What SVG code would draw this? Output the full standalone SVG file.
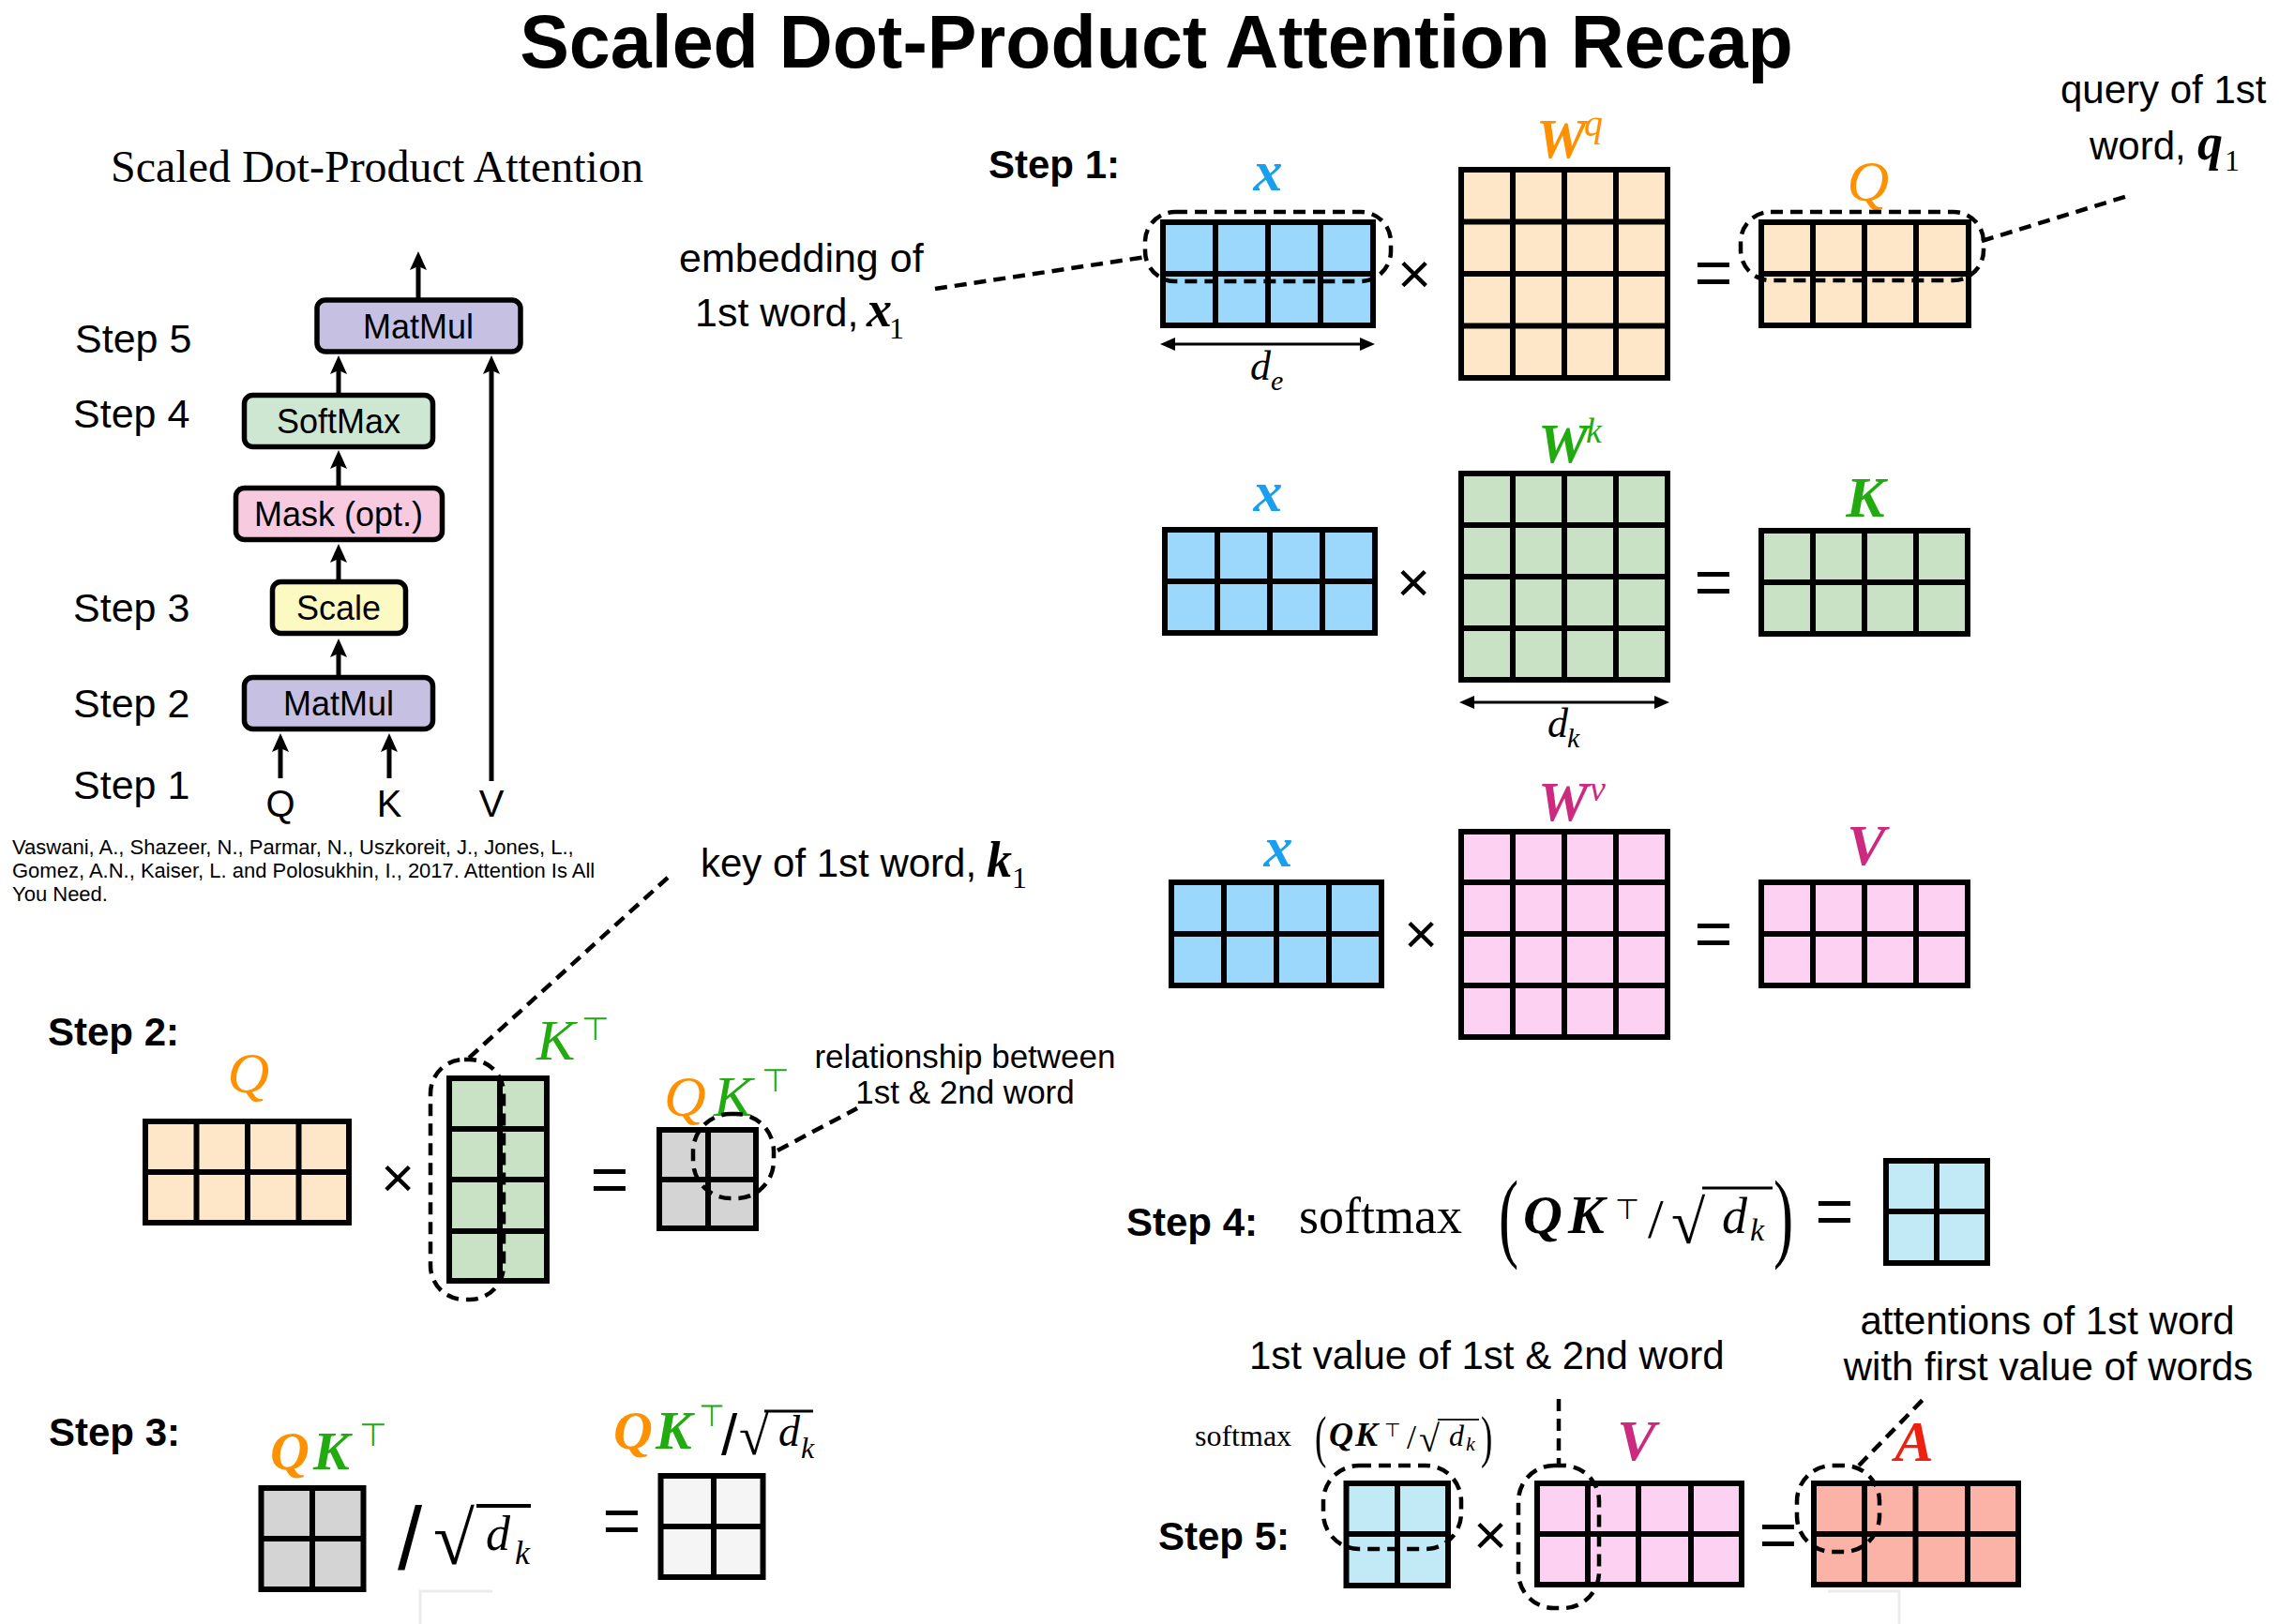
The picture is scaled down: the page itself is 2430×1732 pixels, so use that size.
<svg xmlns="http://www.w3.org/2000/svg" width="2430" height="1732" viewBox="0 0 2430 1732">
<defs>
<style>
.t{font-family:"Liberation Sans",Arial,sans-serif;fill:#000}
.b{font-weight:bold}
.s{font-family:"Liberation Serif","Times New Roman",serif;fill:#000}
.i{font-style:italic}
.mx{stroke:#000;stroke-width:6;stroke-linejoin:miter}
.g{stroke:#000;stroke-width:6}
.d{fill:none;stroke:#000;stroke-width:4.5;stroke-dasharray:13 8}
.box{stroke:#000;stroke-width:5.5}
.ar{stroke:#000;stroke-width:5;fill:none}
.thin{stroke:#000;stroke-width:3;fill:none}
.faint{stroke:#ececec;stroke-width:3;fill:none}
.blue{fill:#9bd8fb}.peach{fill:#fee6c9}.green{fill:#c9e1c4}.pink{fill:#fdd1f2}
.gray{fill:#d4d4d4}.lgray{fill:#f5f5f5}.lblue{fill:#c1e9f6}.salmon{fill:#fbb2a7}
.cb{fill:#1a9ff0}.co{fill:#ff9000}.cg{fill:#22aa11}.cm{fill:#cc2a7f}.cr{fill:#ee2010}
</style>
<marker id="ah" viewBox="0 0 20 18" refX="8" refY="9" markerWidth="20" markerHeight="18" markerUnits="userSpaceOnUse" orient="auto"><path d="M0,0 L20,9 L0,18 L4,9z" fill="#000"/></marker>
<marker id="ah2" viewBox="0 0 16 14" refX="4" refY="7" markerWidth="16" markerHeight="14" markerUnits="userSpaceOnUse" orient="auto-start-reverse"><path d="M0,0 L16,7 L0,14z" fill="#000"/></marker>
</defs>
<rect width="2430" height="1732" fill="#fff"/>

<text id="title" class="t b" x="1233" y="72" font-size="79" text-anchor="middle">Scaled Dot-Product Attention Recap</text>

<!-- Left diagram -->
<g id="left-diagram">
<text class="s" x="118" y="194" font-size="48">Scaled Dot-Product Attention</text>
<text class="t" x="80" y="376" font-size="43">Step 5</text>
<text class="t" x="78" y="456" font-size="43">Step 4</text>
<text class="t" x="78" y="663" font-size="43">Step 3</text>
<text class="t" x="78" y="765" font-size="43">Step 2</text>
<text class="t" x="78" y="852" font-size="43">Step 1</text>
</g>
<g id="node-matmul-top"><rect class="box" x="338" y="320" width="217" height="55" rx="9" fill="#c6c1e3"/><text class="t" x="446" y="361" font-size="36" text-anchor="middle">MatMul</text></g>
<g id="node-softmax"><rect class="box" x="260.5" y="421.5" width="201" height="55" rx="9" fill="#cde7d3"/><text class="t" x="361" y="462" font-size="36" text-anchor="middle">SoftMax</text></g>
<g id="node-mask"><rect class="box" x="251.5" y="520.5" width="220" height="55" rx="9" fill="#f7cadf"/><text class="t" x="361" y="561" font-size="36" text-anchor="middle">Mask (opt.)</text></g>
<g id="node-scale"><rect class="box" x="290.5" y="620.5" width="142" height="55" rx="9" fill="#fcf9c2"/><text class="t" x="361" y="661" font-size="36" text-anchor="middle">Scale</text></g>
<g id="node-matmul-bottom"><rect class="box" x="260.5" y="722.5" width="201" height="55" rx="9" fill="#c6c1e3"/><text class="t" x="361" y="763" font-size="36" text-anchor="middle">MatMul</text></g>
<g id="inputs">
<text class="t" x="299" y="871" font-size="40" text-anchor="middle">Q</text>
<text class="t" x="415" y="871" font-size="40" text-anchor="middle">K</text>
<text class="t" x="524" y="871" font-size="40" text-anchor="middle">V</text>
</g>
<g id="citation" class="t" font-size="22" fill="#222">
<text x="13" y="911">Vaswani, A., Shazeer, N., Parmar, N., Uszkoreit, J., Jones, L.,</text>
<text x="13" y="936">Gomez, A.N., Kaiser, L. and Polosukhin, I., 2017. Attention Is All</text>
<text x="13" y="961">You Need.</text>
</g>

<g id="connectors">
<line class="ar" x1="446" y1="318" x2="446" y2="280" marker-end="url(#ah)"/>
<line class="ar" x1="361" y1="419" x2="361" y2="391" marker-end="url(#ah)"/>
<line class="ar" x1="361" y1="518" x2="361" y2="492" marker-end="url(#ah)"/>
<line class="ar" x1="361" y1="618" x2="361" y2="592" marker-end="url(#ah)"/>
<line class="ar" x1="361" y1="720" x2="361" y2="693" marker-end="url(#ah)"/>
<line class="ar" x1="299" y1="830" x2="299" y2="794" marker-end="url(#ah)"/>
<line class="ar" x1="415" y1="830" x2="415" y2="794" marker-end="url(#ah)"/>
<line class="ar" x1="524" y1="833" x2="524" y2="391" marker-end="url(#ah)"/>
<line class="thin" x1="1249" y1="367" x2="1454" y2="367" marker-start="url(#ah2)" marker-end="url(#ah2)"/>
<line class="thin" x1="1568" y1="749" x2="1768" y2="749" marker-start="url(#ah2)" marker-end="url(#ah2)"/>
<line class="d" x1="997" y1="308" x2="1222" y2="274"/>
<line class="d" x1="2113" y1="257" x2="2272" y2="208"/>
<line class="d" x1="712" y1="936" x2="498" y2="1130"/>
<line class="d" x1="829" y1="1227" x2="914" y2="1182"/>
<line class="d" x1="1662" y1="1492" x2="1662" y2="1563"/>
<line class="d" x1="1982" y1="1563" x2="2051" y2="1492"/>
</g>

<!-- Step 1 -->
<g id="step1">
<text class="t b" x="1054" y="190" font-size="42">Step 1:</text>
<text class="t" x="724" y="290" font-size="43">embedding of</text>
<text class="t" x="741" y="348" font-size="43">1st word, </text>
<text class="s i b" x="924" y="348" font-size="54">x</text>
<text class="s" x="948" y="361" font-size="32">1</text>
<text class="t" x="2197" y="110" font-size="42">query of 1st</text>
<text class="t" x="2228" y="170" font-size="42">word, </text>
<text class="s i b" x="2343" y="170" font-size="54">q</text>
<text class="s" x="2372" y="182" font-size="32">1</text>
</g>
<g id="x-q">
<rect class="mx blue" x="1240" y="237" width="224" height="110"/>
<path class="g" d="M1296,237V347M1352,237V347M1408,237V347M1240,292H1464"/>
<text class="s i b cb" x="1352" y="203" font-size="62" text-anchor="middle">x</text>
<text class="s i" x="1333" y="405" font-size="44">d</text>
<text class="s i" x="1355" y="416" font-size="30">e</text>
<rect class="d" x="1221" y="226" width="262" height="74" rx="32"/>
</g>
<text class="t" x="1508" y="313" font-size="62" text-anchor="middle">×</text>
<g id="wq">
<rect class="mx peach" x="1558" y="181" width="220" height="222"/>
<path class="g" d="M1613,181V403M1668,181V403M1723,181V403M1558,236.5H1778M1558,292H1778M1558,347.5H1778"/>
<text class="s i b co" x="1638" y="168" font-size="60">W</text>
<text class="s i co" x="1689" y="145" font-size="40">q</text>
</g>
<text class="t" x="1827" y="315" font-size="70" text-anchor="middle">=</text>
<g id="q">
<rect class="mx peach" x="1878" y="237" width="221" height="110"/>
<path class="g" d="M1933,237V347M1988,237V347M2043,237V347M1878,292H2099"/>
<text class="s i co" x="1992" y="214" font-size="62" text-anchor="middle">Q</text>
<rect class="d" x="1856" y="226" width="259" height="73" rx="32"/>
</g>

<!-- K row -->
<g id="x-k">
<rect class="mx blue" x="1242" y="565" width="224" height="110"/>
<path class="g" d="M1298,565V675M1354,565V675M1410,565V675M1242,620H1466"/>
<text class="s i b cb" x="1352" y="545" font-size="62" text-anchor="middle">x</text>
</g>
<text class="t" x="1507" y="642" font-size="62" text-anchor="middle">×</text>
<g id="wk">
<rect class="mx green" x="1558" y="505" width="220" height="220"/>
<path class="g" d="M1613,505V725M1668,505V725M1723,505V725M1558,560H1778M1558,615H1778M1558,670H1778"/>
<text class="s i b cg" x="1640" y="493" font-size="60">W</text>
<text class="s i cg" x="1691" y="472" font-size="38">k</text>
<text class="s i" x="1650" y="786" font-size="44">d</text>
<text class="s i" x="1671" y="797" font-size="30">k</text>
</g>
<text class="t" x="1827" y="645" font-size="70" text-anchor="middle">=</text>
<g id="k">
<rect class="mx green" x="1878" y="566" width="220" height="110"/>
<path class="g" d="M1933,566V676M1988,566V676M2043,566V676M1878,621H2098"/>
<text class="s i b cg" x="1989" y="551" font-size="62" text-anchor="middle">K</text>
</g>

<!-- V row -->
<g id="x-v">
<rect class="mx blue" x="1249" y="941" width="224" height="110"/>
<path class="g" d="M1305,941V1051M1361,941V1051M1417,941V1051M1249,996H1473"/>
<text class="s i b cb" x="1363" y="924" font-size="62" text-anchor="middle">x</text>
</g>
<text class="t" x="1515" y="1017" font-size="62" text-anchor="middle">×</text>
<g id="wv">
<rect class="mx pink" x="1558" y="887" width="220" height="219"/>
<path class="g" d="M1613,887V1106M1668,887V1106M1723,887V1106M1558,941H1778M1558,996H1778M1558,1051H1778"/>
<text class="s i b cm" x="1640" y="875" font-size="60">W</text>
<text class="s i cm" x="1695" y="854" font-size="38">v</text>
</g>
<text class="t" x="1827" y="1020" font-size="70" text-anchor="middle">=</text>
<g id="v">
<rect class="mx pink" x="1878" y="941" width="220" height="110"/>
<path class="g" d="M1933,941V1051M1988,941V1051M2043,941V1051M1878,996H2098"/>
<text class="s i b cm" x="1990" y="922" font-size="62" text-anchor="middle">V</text>
</g>

<!-- Step 2 -->
<g id="step2">
<text class="t b" x="51" y="1115" font-size="42">Step 2:</text>
<text class="t" x="747" y="935" font-size="42">key of 1st word, </text>
<text class="s i b" x="1052" y="935" font-size="54">k</text>
<text class="s" x="1079" y="947" font-size="32">1</text>
<text class="t" x="1029" y="1139" font-size="35" text-anchor="middle">relationship between</text>
<text class="t" x="1029" y="1177" font-size="35" text-anchor="middle">1st &amp; 2nd word</text>
</g>
<g id="q2">
<rect class="mx peach" x="155" y="1196" width="217" height="108"/>
<path class="g" d="M209.5,1196V1304M264,1196V1304M318.5,1196V1304M155,1250H372"/>
<text class="s i co" x="265" y="1165" font-size="62" text-anchor="middle">Q</text>
</g>
<text class="t" x="424" y="1277" font-size="62" text-anchor="middle">×</text>
<g id="kt">
<rect class="mx green" x="479" y="1150" width="104" height="216"/>
<path class="g" d="M533,1150V1366M479,1204H583M479,1258H583M479,1313H583"/>
<text class="s i cg" x="572" y="1130" font-size="62">K</text>
<text class="t cg" x="620" y="1109" font-size="34">⊤</text>
<rect class="d" x="459" y="1130" width="78" height="256" rx="36"/>
</g>
<text class="t" x="650" y="1282" font-size="70" text-anchor="middle">=</text>
<g id="qkt">
<rect class="mx gray" x="703" y="1205" width="103" height="105"/>
<path class="g" d="M755,1205V1310M703,1258H806"/>
<text class="s i co" x="708" y="1190" font-size="62">Q</text>
<text class="s i cg" x="761" y="1190" font-size="62">K</text>
<text class="t cg" x="812" y="1164" font-size="34">⊤</text>
<rect class="d" x="739" y="1188" width="86" height="90" rx="40"/>
</g>

<!-- Step 3 -->
<g id="step3">
<text class="t b" x="52" y="1542" font-size="42">Step 3:</text>
<rect class="mx gray" x="278.5" y="1587" width="109" height="108"/>
<path class="g" d="M333,1587V1695M278.5,1641H387.5"/>
<text class="s i b co" x="288" y="1567" font-size="58">Q</text>
<text class="s i b cg" x="334" y="1567" font-size="58">K</text>
<text class="t cg" x="383" y="1542" font-size="34">⊤</text>
<text class="t" x="424" y="1674" font-size="94">/</text>
<text class="s" x="462" y="1668" font-size="80">√</text>
<line x1="508" y1="1606" x2="566" y2="1606" stroke="#000" stroke-width="4"/>
<text class="s i" x="518" y="1653" font-size="52">d</text>
<text class="s i" x="549" y="1668" font-size="36">k</text>
<text class="t" x="663" y="1646" font-size="70" text-anchor="middle">=</text>
<rect class="mx lgray" x="704.5" y="1574" width="109" height="108"/>
<path class="g" d="M761,1574V1682M704.5,1628H813.5"/>
<text class="s i b co" x="654" y="1545" font-size="58">Q</text>
<text class="s i b cg" x="699" y="1545" font-size="58">K</text>
<text class="t cg" x="745" y="1521" font-size="32">⊤</text>
<text class="t" x="769" y="1551" font-size="62">/</text>
<text class="s" x="788" y="1551" font-size="58">√</text>
<line x1="815" y1="1505" x2="867" y2="1505" stroke="#000" stroke-width="3"/>
<text class="s i" x="830" y="1542" font-size="46">d</text>
<text class="s i" x="854" y="1555" font-size="32">k</text>
<path class="faint" d="M448,1732V1697H525"/>
</g>

<!-- Step 4 -->
<g id="step4">
<text class="t b" x="1201" y="1318" font-size="42">Step 4:</text>
<text class="s" x="1385" y="1315" font-size="54">softmax</text>
<text class="s" transform="translate(1598,1332) scale(0.6,1)" font-size="106">(</text>
<text class="s i b" x="1624" y="1315" font-size="58">Q</text>
<text class="s i b" x="1672" y="1315" font-size="58">K</text>
<text class="t" x="1722" y="1300" font-size="30">⊤</text>
<text class="s" x="1757" y="1320" font-size="60">/</text>
<text class="s" x="1782" y="1326" font-size="66">√</text>
<line x1="1815" y1="1267" x2="1890" y2="1267" stroke="#000" stroke-width="3"/>
<text class="s i" x="1836" y="1315" font-size="54">d</text>
<text class="s i" x="1866" y="1323" font-size="34">k</text>
<text class="s" transform="translate(1891,1332) scale(0.6,1)" font-size="106">)</text>
<text class="t" x="1956" y="1316" font-size="70" text-anchor="middle">=</text>
<rect class="mx lblue" x="2011" y="1238" width="108" height="109"/>
<path class="g" d="M2065,1238V1347M2011,1292H2119"/>
</g>

<!-- Step 5 -->
<g id="step5">
<text class="t b" x="1235" y="1653" font-size="42">Step 5:</text>
<text class="t" x="1332" y="1460" font-size="42">1st value of 1st &amp; 2nd word</text>
<text class="t" x="2183" y="1423" font-size="42" text-anchor="middle">attentions of 1st word</text>
<text class="t" x="2184" y="1472" font-size="42" text-anchor="middle">with first value of words</text>
<g fill="#222">
<text class="s" x="1274" y="1542" font-size="32" fill="#222">softmax</text>
<text class="s" transform="translate(1402,1553) scale(0.6,1)" font-size="62" fill="#222">(</text>
<text class="s i b" x="1417" y="1542" font-size="36" fill="#222">Q</text>
<text class="s i b" x="1445" y="1542" font-size="36" fill="#222">K</text>
<text class="t" x="1476" y="1532" font-size="20" fill="#222">⊤</text>
<text class="s" x="1500" y="1545" font-size="36" fill="#222">/</text>
<text class="s" x="1513" y="1548" font-size="40" fill="#222">√</text>
<line x1="1533" y1="1514" x2="1577" y2="1514" stroke="#222" stroke-width="2"/>
<text class="s i" x="1545" y="1542" font-size="32" fill="#222">d</text>
<text class="s i" x="1563" y="1547" font-size="22" fill="#222">k</text>
<text class="s" transform="translate(1579,1553) scale(0.6,1)" font-size="62" fill="#222">)</text>
</g>
</g>
<g id="softmax-mat">
<rect class="mx lblue" x="1435.5" y="1582" width="108.5" height="109"/>
<path class="g" d="M1490,1582V1691M1435.5,1636H1544"/>
<rect class="d" x="1411" y="1563" width="147" height="89" rx="38"/>
</g>
<text class="t" x="1589" y="1658" font-size="62" text-anchor="middle">×</text>
<g id="v5">
<rect class="mx pink" x="1639" y="1582" width="218" height="108"/>
<path class="g" d="M1693,1582V1690M1747,1582V1690M1803,1582V1690M1639,1636H1857"/>
<text class="s i b cm" x="1745" y="1557" font-size="62" text-anchor="middle">V</text>
<rect class="d" x="1619" y="1563" width="86" height="152" rx="38"/>
</g>
<text class="t" x="1896" y="1661" font-size="70" text-anchor="middle">=</text>
<g id="a">
<rect class="mx salmon" x="1934" y="1582" width="218" height="108"/>
<path class="g" d="M1988,1582V1690M2042.5,1582V1690M2098,1582V1690M1934,1636H2152"/>
<text class="s i b cr" x="2041" y="1558" font-size="62" text-anchor="middle">A</text>
<rect class="d" x="1916" y="1563" width="88" height="92" rx="38"/>
<path class="faint" d="M1949,1697H2025V1732"/>
</g>
</svg>
